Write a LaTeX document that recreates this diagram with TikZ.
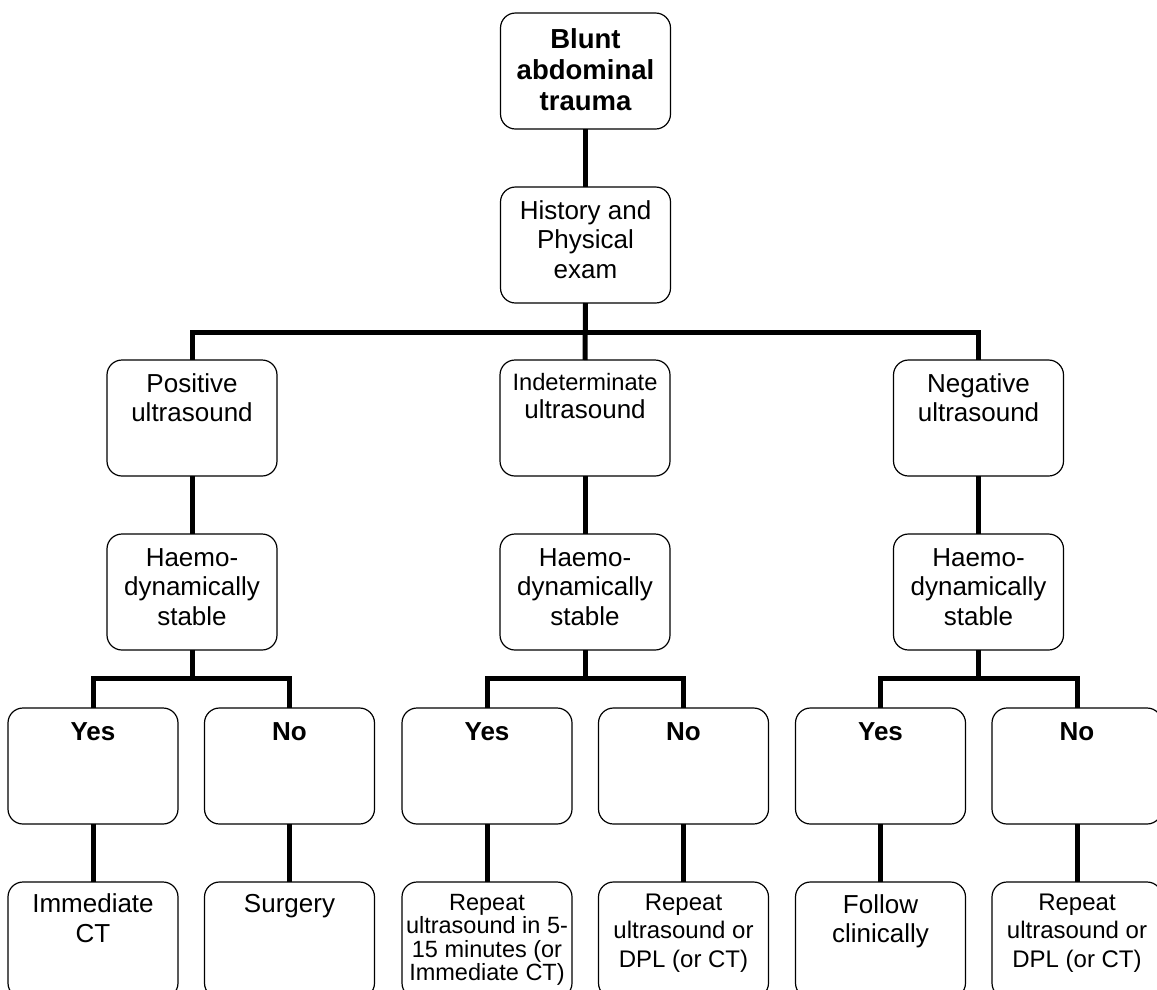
\documentclass[tikz,border=0pt]{standalone}
\usepackage{fontspec}
\setmainfont{Liberation Sans}
\usetikzlibrary{calc}
% #1 first-baseline distance from top, #2 font, #3 text
\newcommand\boxtext[3]{\parbox[t][116pt][t]{170pt}{#2\centering\rule{0pt}{#1}#3}}
\newcommand\fnorm{\fontsize{26}{29.5}\selectfont}
\begin{document}
\begin{tikzpicture}[x=1pt,y=-1pt,
  box/.style={draw, line width=1.2pt, rounded corners=15pt, inner sep=0pt, outer sep=0pt, anchor=north},
  conn/.style={line width=5pt}]
\useasboundingbox (0,0) rectangle (1157,989);
\clip (0,0) rectangle (1157,989);

% level 0/1
\node[box] (top)  at (585.5,13)  {\boxtext{35pt}{\fontsize{27.5}{31}\selectfont\bfseries}{Blunt\\abdominal\\trauma}};
\node[box] (hist) at (585.5,187) {\boxtext{32pt}{\fnorm}{History and\\Physical\\exam}};

% level 2
\node[box] (pos) at (192,360)   {\boxtext{32pt}{\fnorm}{Positive\\ultrasound}};
\node[box] (ind) at (585,360)   {\boxtext{30pt}{\fontsize{26}{28}\selectfont}{{\fontsize{23.7}{28}\selectfont Indeterminate}\\ultrasound}};
\node[box] (neg) at (978.5,360) {\boxtext{32pt}{\fnorm}{Negative\\ultrasound}};

% level 3
\node[box] (h1) at (192,534)   {\boxtext{32pt}{\fnorm}{Haemo-\\dynamically\\stable}};
\node[box] (h2) at (585,534)   {\boxtext{32pt}{\fnorm}{Haemo-\\dynamically\\stable}};
\node[box] (h3) at (978.5,534) {\boxtext{32pt}{\fnorm}{Haemo-\\dynamically\\stable}};

% level 4
\node[box] (y1) at (93,708)    {\boxtext{32pt}{\fnorm\bfseries}{Yes}};
\node[box] (n1) at (289.5,708) {\boxtext{32pt}{\fnorm\bfseries}{No}};
\node[box] (y2) at (487,708)   {\boxtext{32pt}{\fnorm\bfseries}{Yes}};
\node[box] (n2) at (683.5,708) {\boxtext{32pt}{\fnorm\bfseries}{No}};
\node[box] (y3) at (880.5,708) {\boxtext{32pt}{\fnorm\bfseries}{Yes}};
\node[box] (n3) at (1077,708)  {\boxtext{32pt}{\fnorm\bfseries}{No}};

% level 5
\node[box] (r1) at (93,882)    {\boxtext{30pt}{\fontsize{26}{30}\selectfont}{Immediate\\CT}};
\node[box] (r2) at (289.5,882) {\boxtext{30pt}{\fnorm}{Surgery}};
\node[box] (r3) at (487,882)   {\boxtext{28pt}{\fontsize{23.5}{23.5}\selectfont}{Repeat\\ultrasound in 5-\\15 minutes (or\\Immediate CT)}};
\node[box] (r4) at (683.5,882) {\boxtext{28pt}{\fontsize{24}{28.5}\selectfont}{Repeat\\ultrasound or\\DPL (or CT)}};
\node[box] (r5) at (880.5,882) {\boxtext{31pt}{\fnorm}{Follow\\clinically}};
\node[box] (r6) at (1077,882)  {\boxtext{28pt}{\fontsize{24}{28.5}\selectfont}{Repeat\\ultrasound or\\DPL (or CT)}};

% connectors
\draw[conn] (top.south) -- (hist.north);
\draw[conn] (pos.north) -- ++(0,-28) coordinate (jm) -| (neg.north);
\draw[conn] (hist.south) -- (ind.north);

\draw[conn] (pos.south) -- (h1.north);
\draw[conn] (ind.south) -- (h2.north);
\draw[conn] (neg.south) -- (h3.north);

\draw[conn] (y1.north) -- ++(0,-30) coordinate (j1) -| (n1.north);
\draw[conn] (h1.south) -- (h1.south |- j1);
\draw[conn] (y2.north) -- ++(0,-30) coordinate (j2) -| (n2.north);
\draw[conn] (h2.south) -- (h2.south |- j2);
\draw[conn] (y3.north) -- ++(0,-30) coordinate (j3) -| (n3.north);
\draw[conn] (h3.south) -- (h3.south |- j3);

\draw[conn] (y1.south) -- (r1.north);
\draw[conn] (n1.south) -- (r2.north);
\draw[conn] (y2.south) -- (r3.north);
\draw[conn] (n2.south) -- (r4.north);
\draw[conn] (y3.south) -- (r5.north);
\draw[conn] (n3.south) -- (r6.north);
\end{tikzpicture}
\end{document}
